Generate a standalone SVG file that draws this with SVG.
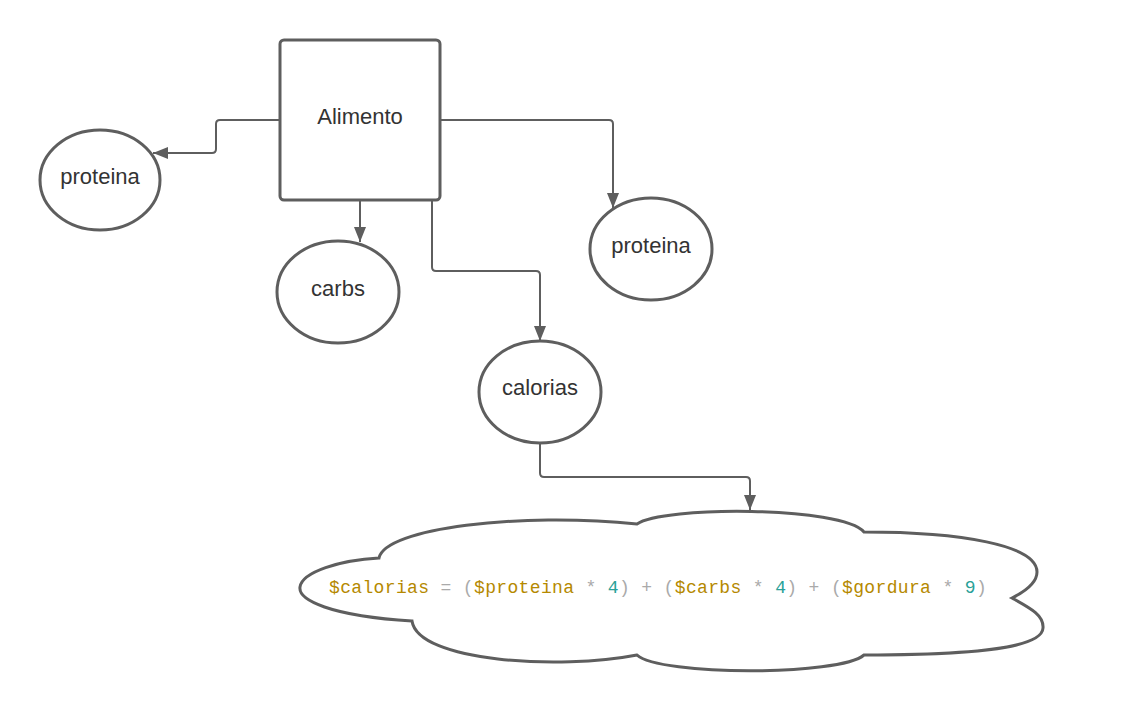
<svg xmlns="http://www.w3.org/2000/svg" width="1127" height="715" viewBox="0 0 1127 715">
<style>
.shape{fill:#fff;stroke:#5e5e5e;stroke-width:3}
.conn{fill:none;stroke:#5e5e5e;stroke-width:2;marker-end:url(#arr)}
.lbl{font-family:"Liberation Sans",Arial,sans-serif;font-size:22px;fill:#333;text-anchor:middle}
.code{font-family:"Liberation Mono","DejaVu Sans Mono",monospace;font-size:18px;letter-spacing:0.35px}
.v{fill:#b58900}.o{fill:#aaaaaa}.n{fill:#2aa198}
</style>
<defs>
<marker id="arr" markerUnits="userSpaceOnUse" markerWidth="16" markerHeight="13" refX="15" refY="6" orient="auto"><path d="M0,0 L15,6 L0,12 z" fill="#5e5e5e"/></marker>
</defs>
<g id="connectors">
<path class="conn" d="M280 120 H220 Q216 120 216 124 V149 Q216 153 212 153 H153"/>
<path class="conn" d="M360 200 V242"/>
<path class="conn" d="M432 200 V267 Q432 271 436 271 H536 Q540 271 540 275 V341"/>
<path class="conn" d="M440 120 H609 Q613 120 613 124 V208"/>
<path class="conn" d="M540 443 V473 Q540 477 544 477 H746 Q750 477 750 481 V510"/>
</g>
<g id="alimento"><rect class="shape" x="280" y="40" width="160" height="160" rx="4"/><text class="lbl" x="360" y="124">Alimento</text></g>
<g id="proteina1"><ellipse class="shape" cx="100" cy="180" rx="60" ry="50"/><text class="lbl" x="100" y="184">proteina</text></g>
<g id="carbs"><ellipse class="shape" cx="338" cy="292" rx="61" ry="51"/><text class="lbl" x="338" y="296">carbs</text></g>
<g id="proteina2"><ellipse class="shape" cx="651" cy="249" rx="61" ry="51"/><text class="lbl" x="651" y="253">proteina</text></g>
<g id="calorias"><ellipse class="shape" cx="540" cy="392" rx="61" ry="51"/><text class="lbl" x="540" y="395">calorias</text></g>
<g id="formula">
<path class="shape" d="M412 621 C330 616 298 600 300 587 C302 572 340 560 379 558 C385 528 520 512 637 524 C662 506 842 506 864 532 C960 532 1037 545 1037 572 C1037 585 1020 594 1012 598 C1030 608 1044 615 1043 628 C1042 650 960 655 864 655 C840 676 660 676 637 655 C560 670 418 662 412 621 Z"/>
<text class="code" x="329" y="593"><tspan class="v">$calorias</tspan><tspan class="o"> = (</tspan><tspan class="v">$proteina</tspan><tspan class="o"> * </tspan><tspan class="n">4</tspan><tspan class="o">) + (</tspan><tspan class="v">$carbs</tspan><tspan class="o"> * </tspan><tspan class="n">4</tspan><tspan class="o">) + (</tspan><tspan class="v">$gordura</tspan><tspan class="o"> * </tspan><tspan class="n">9</tspan><tspan class="o">)</tspan></text>
</g>
</svg>
